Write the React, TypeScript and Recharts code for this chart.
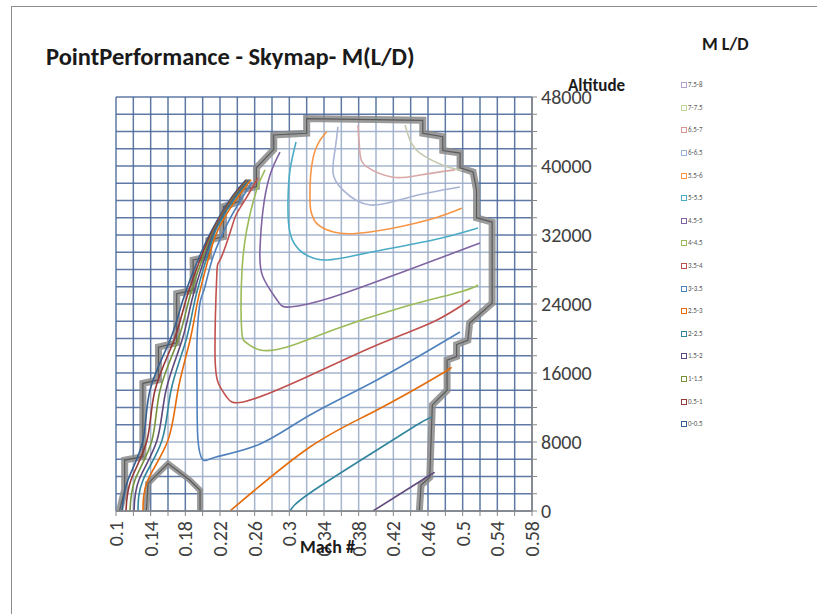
import React from 'react';
import { ComposedChart, Line, Area, XAxis, YAxis, CartesianGrid } from 'recharts';

const machTicks = [0.1, 0.12, 0.14, 0.16, 0.18, 0.2, 0.22, 0.24, 0.26, 0.28, 0.3, 0.32, 0.34, 0.36, 0.38, 0.4, 0.42, 0.44, 0.46, 0.48, 0.5, 0.52, 0.54, 0.56, 0.58];
const machLabels = ['0.1', '0.14', '0.18', '0.22', '0.26', '0.3', '0.34', '0.38', '0.42', '0.46', '0.5', '0.54', '0.58'];
const altTicks = [0, 2000, 4000, 6000, 8000, 10000, 12000, 14000, 16000, 18000, 20000, 22000, 24000, 26000, 28000, 30000, 32000, 34000, 36000, 38000, 40000, 42000, 44000, 46000, 48000];
const altLabels = ['0', '8000', '16000', '24000', '32000', '40000', '48000'];

const legendLabels = ['7.5-8', '7-7.5', '6.5-7', '6-6.5', '5.5-6', '5-5.5', '4.5-5', '4-4.5', '3.5-4', '3-3.5', '2.5-3', '2-2.5', '1.5-2', '1-1.5', '0.5-1', '0-0.5'];
const legendColors = ['#b3a2c7', '#c3d69b', '#d99694', '#95b3d7', '#f79646', '#4bacc6', '#8064a2', '#9bbb59', '#c0504d', '#4f81bd', '#e46c0a', '#31859c', '#5f497a', '#76923c', '#953735', '#376092'];

// envelope of the flight map (stair-stepped boundary)
const envelope = [
  [0.104, 0], [0.110, 2500], [0.110, 5900], [0.131, 6300], [0.131, 14800], [0.149, 15200], [0.149, 19000],
  [0.170, 19500], [0.170, 25200], [0.189, 25600], [0.189, 29100], [0.207, 29500], [0.207, 31400],
  [0.224, 31800], [0.224, 35300], [0.243, 35900], [0.243, 37200], [0.262, 37600], [0.262, 39800],
  [0.282, 41900], [0.282, 43600], [0.320, 43800], [0.320, 45500], [0.454, 45300], [0.454, 43800],
  [0.477, 43400], [0.477, 41800], [0.497, 41500], [0.497, 39800], [0.512, 39300], [0.516, 37200],
  [0.516, 34000], [0.534, 33500], [0.534, 24100], [0.508, 21800], [0.506, 19800], [0.493, 19300],
  [0.493, 17900], [0.482, 17500], [0.482, 14000], [0.465, 12300], [0.462, 3900], [0.452, 3000], [0.450, 0],
];
const bump = [[0.135, 0], [0.137, 3200], [0.160, 5500], [0.185, 3600], [0.197, 2400], [0.197, 0]];

// inside of the envelope: [mach, lowAlt, highAlt]
const inside = [
  [0.104, 0, 0], [0.110, 0, 5900], [0.131, 0, 6300], [0.131, 0, 14800], [0.135, 0, 14900], [0.137, 3200, 14950],
  [0.149, 4400, 15200], [0.149, 4400, 19000], [0.160, 5500, 19250], [0.170, 4700, 19500], [0.170, 4700, 25200],
  [0.185, 3600, 25500], [0.189, 3300, 25600], [0.189, 3300, 29100], [0.197, 2400, 29300], [0.197, 0, 29300],
  [0.207, 0, 29500], [0.207, 0, 31400], [0.224, 0, 31800], [0.224, 0, 35300], [0.243, 0, 35900], [0.243, 0, 37200],
  [0.262, 0, 37600], [0.262, 0, 39800], [0.282, 0, 41900], [0.282, 0, 43600], [0.320, 0, 43800], [0.320, 0, 45500],
  [0.450, 0, 45300], [0.452, 3000, 45300], [0.454, 3100, 45300], [0.454, 3100, 43800], [0.462, 3900, 43650],
  [0.465, 12300, 43600], [0.477, 13500, 43400], [0.477, 13500, 41800], [0.482, 14000, 41700], [0.482, 17500, 41700],
  [0.493, 17900, 41550], [0.493, 19300, 41550], [0.497, 19450, 41500], [0.497, 19450, 39800], [0.506, 19800, 39500],
  [0.508, 21800, 39450], [0.512, 22200, 39300], [0.516, 22500, 37200], [0.516, 22500, 34000], [0.534, 24100, 33500],
];

// contour lines
const c70 = [[0.4335, 44750], [0.4392, 43000], [0.4508, 41500], [0.4773, 40100], [0.4992, 39500]];
const c65 = [[0.3792, 44750], [0.3815, 41500], [0.3896, 39900], [0.4196, 38700], [0.4508, 38950], [0.4912, 39550]];
const c60 = [[0.3561, 44550], [0.3527, 41850], [0.3504, 39200], [0.3619, 37200], [0.3931, 35480], [0.4392, 36400], [0.4969, 37560]];
const c55 = [[0.3431, 43980], [0.3277, 41080], [0.3238, 36060], [0.3262, 34320], [0.3334, 33160], [0.3585, 32200], [0.3931, 32350], [0.4277, 32960], [0.4680, 33970], [0.4989, 35100]];
const c50 = [[0.3077, 42780], [0.3008, 39540], [0.2985, 36060], [0.3008, 32230], [0.3158, 29910], [0.3435, 29100], [0.3896, 29910], [0.4658, 31420], [0.5177, 32810]];
const c45 = [[0.2892, 41620], [0.2777, 38960], [0.2696, 34900], [0.2661, 30260], [0.2696, 27130], [0.2858, 24460], [0.3008, 23650], [0.3504, 24810], [0.4277, 27590], [0.5200, 31070]];
const c40 = [[0.2719, 39540], [0.2623, 37220], [0.2508, 32580], [0.2450, 27130], [0.2450, 20990], [0.2508, 19480], [0.2661, 18670], [0.2973, 19010], [0.3504, 20990], [0.4277, 23540], [0.4969, 25390], [0.5177, 26200]];
const c35 = [[0.2638, 38610], [0.2488, 36060], [0.2385, 34320], [0.2315, 32230], [0.2200, 29100], [0.2162, 27130], [0.2142, 18670], [0.2180, 14840], [0.2277, 13220], [0.2469, 12640], [0.3123, 15190], [0.4011, 19250], [0.4658, 21910], [0.5085, 24460]];
const c30 = [[0.2569, 38140], [0.2338, 34320], [0.2223, 32000], [0.2108, 29100], [0.2015, 25620], [0.1969, 24120], [0.1935, 19830], [0.1935, 14030], [0.1946, 8230], [0.2004, 5910], [0.2154, 6260], [0.2662, 7770], [0.3238, 11130], [0.4011, 15190], [0.4969, 20750]];
const c25b = [[0.2315, 0], [0.3238, 7420], [0.4011, 11710], [0.4773, 16000], [0.4819, 16350]];
const c20b = [[0.3008, 0], [0.3238, 2090], [0.4011, 7070], [0.4508, 10200], [0.4646, 10900]];
const c15b = [[0.3965, 0], [0.4588, 3940], [0.4646, 4290]];

// fan of low-level contours along the left boundary
const fanAlt = [0, 3600, 8200, 14000, 19800, 24500, 29100, 32600, 36100, 38400];
const fan00 = [0.1069, 0.1138, 0.1312, 0.1392, 0.1623, 0.1773, 0.1946, 0.2108, 0.2315, 0.2500];
const fan05 = [0.1115, 0.1173, 0.1358, 0.1450, 0.1669, 0.1808, 0.1969, 0.2119, 0.2327, 0.2512];
const fan10 = [0.1162, 0.1219, 0.1415, 0.1508, 0.1715, 0.1842, 0.1992, 0.2131, 0.2338, 0.2523];
const fan15 = [0.1208, 0.1265, 0.1473, 0.1577, 0.1762, 0.1877, 0.2015, 0.2142, 0.2350, 0.2535];
const fan20 = [0.1254, 0.1312, 0.1531, 0.1635, 0.1808, 0.1912, 0.2038, 0.2154, 0.2362, 0.2546];
const fan25 = [0.1312, 0.1369, 0.1600, 0.1715, 0.1854, 0.1946, 0.2062, 0.2177, 0.2385, 0.2558];

const pts = (a: number[][]) => a.map(([x, y]) => ({ x, y }));
const fanPts = (xs: number[]) => xs.map((x, i) => ({ x, y: fanAlt[i] }));
const insidePts = inside.map(([x, lo, hi]) => ({ x, r: [lo, hi] }));

const contours: { key: string; data: { x: number; y: number }[]; color: string }[] = [
  { key: 'f00', data: fanPts(fan00), color: '#376092' },
  { key: 'f05', data: fanPts(fan05), color: '#953735' },
  { key: 'f10', data: fanPts(fan10), color: '#76923c' },
  { key: 'f15', data: fanPts(fan15), color: '#5f497a' },
  { key: 'f20', data: fanPts(fan20), color: '#31859c' },
  { key: 'f25', data: fanPts(fan25), color: '#e46c0a' },
  { key: 'c15b', data: pts(c15b), color: '#5f497a' },
  { key: 'c20b', data: pts(c20b), color: '#31859c' },
  { key: 'c25b', data: pts(c25b), color: '#e46c0a' },
  { key: 'c30', data: pts(c30), color: '#4f81bd' },
  { key: 'c35', data: pts(c35), color: '#c0504d' },
  { key: 'c40', data: pts(c40), color: '#9bbb59' },
  { key: 'c45', data: pts(c45), color: '#8064a2' },
  { key: 'c50', data: pts(c50), color: '#4bacc6' },
  { key: 'c55', data: pts(c55), color: '#f79646' },
  { key: 'c60', data: pts(c60), color: '#a9b4d4' },
  { key: 'c65', data: pts(c65), color: '#d8a8a8' },
  { key: 'c70', data: pts(c70), color: '#c4c9b0' },
];

const FONT = 'Calibri, Carlito, Lato, sans-serif';

const XTick = (props: any) => {
  const { x, y, payload } = props;
  const v = Number(payload.value);
  const idx = Math.round((v - 0.1) / 0.02);
  if (idx % 2 !== 0) return null;
  const label = machLabels[idx / 2];
  return (
    <text x={x} y={y + 3} transform={`rotate(-90 ${x} ${y + 3})`} textAnchor="end" dominantBaseline="central"
      fontFamily={FONT} fontSize={20} fill="#404040">{label}</text>
  );
};

const YTick = (props: any) => {
  const { x, y, payload } = props;
  const v = Number(payload.value);
  if (v % 8000 !== 0) return null;
  const label = altLabels[v / 8000];
  return (
    <text x={x + 2} y={y} textAnchor="start" dominantBaseline="central" fontFamily={FONT} fontSize={20} fill="#404040">{label}</text>
  );
};

export default function App() {
  return (
    <div style={{ position: 'absolute', left: 0, top: 0, width: 817, height: 614, background: '#fff', overflow: 'hidden', fontFamily: FONT }}>
      <div style={{ position: 'absolute', left: 11, top: 6, width: 900, height: 800, borderLeft: '1.5px solid #8c8c8c', borderTop: '1.5px solid #8c8c8c' }} />
      <div style={{ position: 'absolute', left: 46, top: 43, fontSize: 24.5, fontWeight: 700, color: '#1a1a1a', whiteSpace: 'nowrap', lineHeight: '28px' }}>
        PointPerformance - Skymap- M(L/D)
      </div>
      <div style={{ position: 'absolute', left: 0, top: 0 }}>
        <ComposedChart width={817} height={614} margin={{ top: 97, left: 116, right: 205, bottom: 43 }}>
          <CartesianGrid stroke="#4d6a9c" strokeWidth={1.5} strokeOpacity={0.9} />
          <XAxis dataKey="x" type="number" domain={[0.1, 0.58]} ticks={machTicks} allowDataOverflow interval={0}
            height={60} tick={<XTick />} tickSize={5} axisLine={{ stroke: '#868686', strokeWidth: 1.5 }} tickLine={{ stroke: '#868686' }} />
          <YAxis type="number" orientation="right" domain={[0, 48000]} ticks={altTicks} allowDataOverflow interval={0}
            width={80} tick={<YTick />} tickSize={5} axisLine={{ stroke: '#868686', strokeWidth: 1.5 }} tickLine={{ stroke: '#868686' }} />
          <Area data={insidePts} dataKey="r" type="linear" stroke="none" fill="#ffffff" fillOpacity={0.45} isAnimationActive={false} />
          <Line data={pts(envelope)} dataKey="y" type="linear" stroke="#8a8a8a" strokeWidth={7} strokeOpacity={0.85} dot={false} isAnimationActive={false} />
          <Line data={pts(bump)} dataKey="y" type="linear" stroke="#8a8a8a" strokeWidth={6} strokeOpacity={0.85} dot={false} isAnimationActive={false} />
          <Line data={pts(envelope)} dataKey="y" type="linear" stroke="#5a5a5a" strokeWidth={1.2} dot={false} isAnimationActive={false} />
          <Line data={pts(bump)} dataKey="y" type="linear" stroke="#5a5a5a" strokeWidth={1.2} dot={false} isAnimationActive={false} />
          {contours.map((c) => (
            <Line key={c.key} data={c.data} dataKey="y" type="natural" stroke={c.color} strokeWidth={1.6} dot={false} isAnimationActive={false} />
          ))}
        </ComposedChart>
      </div>
      <div style={{ position: 'absolute', left: 568, top: 75, fontSize: 17, fontWeight: 700, color: '#1a1a1a', whiteSpace: 'nowrap', lineHeight: '22px' }}>Altitude</div>
      <div style={{ position: 'absolute', left: 300, top: 536, fontSize: 18, fontWeight: 700, color: '#1a1a1a', whiteSpace: 'nowrap', lineHeight: '22px' }}>Mach #</div>
      <div style={{ position: 'absolute', left: 702, top: 33, fontSize: 18, fontWeight: 700, color: '#1a1a1a', whiteSpace: 'nowrap', lineHeight: '22px' }}>M L/D</div>
      <div style={{ position: 'absolute', left: 681, top: 74 }}>
        {legendLabels.map((l, i) => (
          <div key={l} style={{ height: 22.6, display: 'flex', alignItems: 'center' }}>
            <span style={{ display: 'inline-block', width: 4, height: 4, border: `1.2px solid ${legendColors[i]}`, marginRight: 1 }} />
            <span style={{ fontSize: 7, color: '#595959', lineHeight: '8px' }}>{l}</span>
          </div>
        ))}
      </div>
    </div>
  );
}
